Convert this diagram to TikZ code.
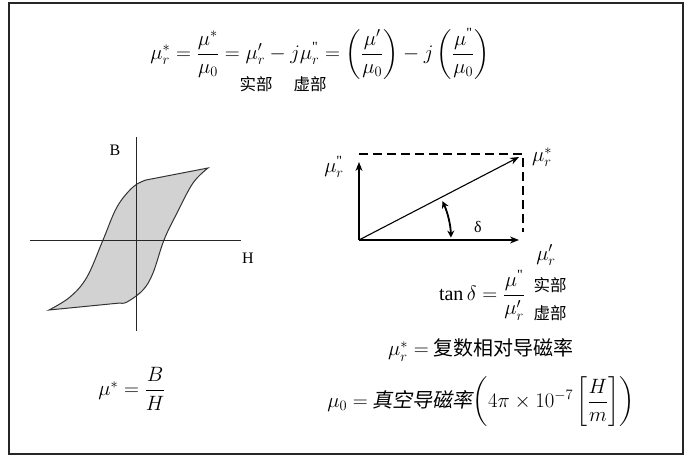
\documentclass[tikz,border=0pt]{standalone}
\usepackage{amsmath}
\usepackage{fontspec}
\setmainfont{Liberation Serif}
\newfontfamily\zh{Noto Sans CJK SC}
\newfontfamily\zhit{Noto Sans CJK SC}[FakeSlant=0.2]
\usepackage{tikz}
\usetikzlibrary{arrows.meta,positioning}
\newcommand{\dq}{\text{\textquotedbl}}

\begin{document}
\begin{tikzpicture}[x=1pt,y=-1pt,
  math/.style={inner sep=1pt,font=\fontsize{20}{24}\selectfont},
  zhlab/.style={inner sep=1pt,font=\fontsize{16.5}{18}\selectfont\zh},
  axis/.style={draw,line width=1pt,black!85},
  vec/.style={draw,line width=1.1pt,-{Stealth[length=9pt,width=7pt]}},
  >={Stealth[]}]
  \useasboundingbox (0,0) rectangle (686,456);
  \draw[line width=1.3pt,black!85] (9,3) rectangle (683,454);
  % main definition
  \node[math] (eq) at (320,54) {$\mu_r^* = \dfrac{\mu^*}{\mu_0} = \mu'_r - j\mu_r^{\dq}
    = \left(\dfrac{\mu'}{\mu_0}\right) - j\left(\dfrac{\mu^{\dq}}{\mu_0}\right)$};
  \node[zhlab] (re) at (256,84) {实部};
  \node[zhlab] (im) at (310,84) {虚部};
  % hysteresis loop
  \coordinate (bt) at (136,137); \coordinate (bb) at (136,331);
  \coordinate (hl) at (30,240); \coordinate (hr) at (241,240);
  \draw[line width=1pt,black!80,fill=gray!35] plot[smooth,tension=0.6] coordinates {(49,310)
    (70,297) (87,277) (103,240) (117,207) (133,187) (146,180)}
    -- plot[smooth,tension=0.6] coordinates {(208,168) (193,183) (177,213) (164,240)
    (153,273) (143,290) (127,302) (120,303)} -- cycle;
  \draw[axis] (bt) -- (bb);
  \draw[axis] (hl) -- (hr);
  \node[font=\fontsize{16}{18}\selectfont] (B) at (115,150) {B};
  \node[font=\fontsize{16}{18}\selectfont] (H) at (248,258) {H};
  \node[math] (mustar) at (132,389) {$\mu^* = \dfrac{B}{H}$};
  % phasor diagram
  \coordinate (o) at (359,240); \coordinate (x) at (519,240);
  \coordinate (y) at (359,162); \coordinate (p) at (519,157);
  \coordinate (c) at (523,154);
  \draw[vec] (o) -- (x);
  \draw[vec] (o) -- (y);
  \draw[vec] (o) -- (p);
  \draw[line width=2pt,dash pattern=on 9pt off 5pt] (359,154) -- (c) -- (523,232);
  \draw[line width=1.8pt,{Stealth[length=7pt,width=7pt]}-{Stealth[length=7pt,width=7pt]}]
    ([shift={(25:92pt)}]o) arc[start angle=25,end angle=1.5,radius=92pt];
  \node[font=\fontsize{16}{18}\selectfont] (d) at (478,227) {δ};
  \node[math] (ps) at (542,157) {$\mu_r^*$};
  \node[math] (pi) at (334,167) {$\mu_r^{\dq}$};
  \node[math] (pr) at (546,255) {$\mu'_r$};
  % loss tangent and constants
  \node[math] (tan) at (482,295) {$\tan\delta = \dfrac{\mu^{\dq}}{\mu'_r}$};
  \node[zhlab] (tre) at (550,285) {实部};
  \node[zhlab] (tim) at (550,313) {虚部};
  \node[math] (def) at (481,350) {$\mu_r^* = $ {\fontsize{20}{24}\selectfont\zh 复数相对导磁率}};
  \node[math] (mu0) at (481,402) {$\mu_0 = $ {\fontsize{20}{24}\selectfont\zhit 真空导磁率}$\left(4\pi\times10^{-7}
    \left[\dfrac{H}{m}\right]\right)$};
\end{tikzpicture}
\end{document}
